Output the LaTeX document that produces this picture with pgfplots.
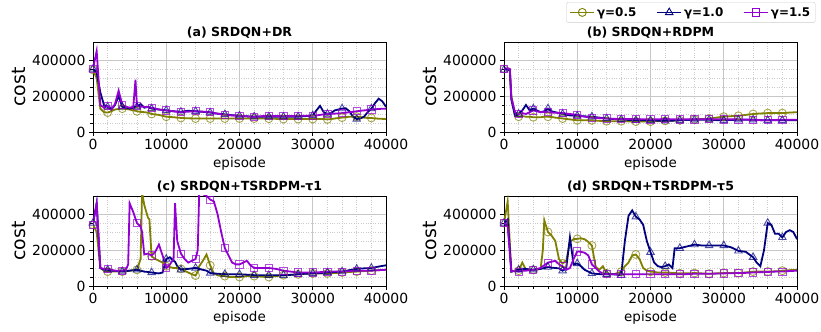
\documentclass[border=0pt]{standalone}
\usepackage{fontspec}
\setmainfont{DejaVu Sans}
\usepackage{pgfplots}
\pgfplotsset{compat=1.18}
\usepackage{pgfplotstable}

\definecolor{colA}{HTML}{808000}
\definecolor{colB}{HTML}{000080}
\definecolor{colC}{HTML}{9400D3}

\pgfplotstableread{
x a b c
0 345000 350000 350000
500 300000 330000 450000
1000 130000 220000 150000
1500 110000 150000 135000
2000 108000 140000 145000
2500 115000 125000 125000
3000 125000 150000 155000
3500 128000 200000 230000
4000 130000 140000 150000
4500 128000 135000 140000
5000 125000 130000 135000
5500 120000 135000 140000
5800 118000 140000 290000
6000 115000 140000 145000
6500 112000 155000 140000
7000 110000 135000 140000
7500 108000 140000 138000
8000 100000 130000 135000
9000 95000 125000 125000
10000 85000 120000 120000
11000 82000 115000 115000
12000 78000 112000 110000
13000 76000 118000 113000
14000 75000 115000 115000
15000 75000 112000 113000
16000 75000 108000 110000
17000 75000 102000 102000
18000 75000 98000 95000
19000 75000 93000 92000
20000 75000 90000 90000
21000 75000 87000 87000
22000 75000 85000 85000
23000 75000 85000 88000
24000 74000 85000 90000
25000 73000 85000 89000
26000 72000 85000 88000
27000 72000 85000 89000
28000 72000 85000 90000
29000 72000 88000 90000
30000 72000 92000 90000
30500 72000 120000 92000
31000 72000 145000 95000
31500 72000 110000 98000
32000 70000 100000 100000
32500 72000 105000 101000
33000 75000 120000 102000
34000 80000 130000 105000
34500 82000 132000 107000
35000 85000 115000 110000
35500 85000 85000 112000
36000 85000 72000 115000
36500 83000 75000 118000
37000 80000 85000 120000
37500 78000 110000 122000
38000 78000 130000 125000
38500 75000 160000 126000
39000 74000 185000 128000
39500 73000 170000 129000
40000 72000 140000 130000
}\tabA

\pgfplotstableread{
x a b c
0 350000 345000 350000
500 350000 350000 355000
800 340000 340000 350000
1000 200000 180000 190000
1500 95000 90000 110000
2000 85000 100000 100000
2500 88000 120000 105000
3000 85000 150000 100000
3500 85000 120000 110000
4000 82000 130000 120000
4500 82000 120000 115000
5000 82000 110000 110000
5500 85000 115000 112000
6000 85000 130000 110000
6500 83000 115000 108000
7000 80000 110000 107000
8000 75000 100000 105000
9000 70000 92000 100000
10000 65000 90000 95000
11000 65000 87000 85000
12000 65000 85000 80000
13000 62000 80000 77000
14000 60000 75000 75000
15000 60000 72000 73000
16000 60000 70000 72000
17000 59000 67000 72000
18000 58000 65000 72000
19000 58000 65000 71000
20000 58000 65000 70000
21000 60000 63000 71000
22000 62000 62000 72000
23000 63000 63000 71000
24000 65000 65000 70000
25000 68000 67000 70000
26000 70000 68000 70000
27000 72000 68000 71000
28000 75000 68000 72000
29000 80000 66000 71000
30000 85000 65000 70000
31000 88000 67000 70000
32000 90000 68000 70000
33000 95000 68000 69000
34000 100000 68000 68000
35000 103000 66000 66000
36000 105000 65000 65000
37000 105000 65000 67000
38000 105000 65000 68000
39000 108000 65000 68000
40000 110000 65000 68000
}\tabB

\pgfplotstableread{
x a b c
0 340000 350000 340000
500 300000 460000 460000
1000 100000 100000 100000
1500 85000 90000 95000
2000 80000 90000 95000
2500 80000 85000 90000
3000 80000 85000 85000
3500 80000 82000 85000
4000 80000 80000 85000
4500 82000 82000 90000
4800 84000 84000 120000
5000 85000 85000 460000
5500 88000 88000 410000
6000 90000 90000 350000
6500 150000 85000 330000
6700 520000 83000 300000
7000 450000 80000 175000
7500 380000 78000 180000
7700 370000 76000 175000
8000 165000 75000 170000
8500 150000 72000 190000
9000 140000 70000 230000
9500 130000 75000 170000
10000 110000 150000 100000
10500 105000 160000 120000
11000 100000 140000 150000
11200 100000 135000 460000
11500 100000 110000 250000
12000 95000 90000 180000
12500 85000 95000 150000
13000 75000 95000 130000
13500 65000 98000 140000
14000 58000 100000 150000
14300 80000 98000 200000
14500 110000 95000 520000
15000 140000 90000 510000
15500 175000 85000 500000
16000 115000 72000 480000
16500 70000 70000 470000
17000 60000 68000 400000
17500 55000 67000 300000
18000 55000 66000 210000
18500 50000 65000 170000
19000 50000 65000 130000
19500 50000 65000 120000
20000 50000 65000 120000
20500 52000 64000 130000
21000 55000 63000 140000
21500 55000 62000 115000
22000 55000 60000 100000
23000 52000 60000 100000
24000 50000 60000 100000
25000 55000 60000 95000
26000 60000 60000 85000
27000 62000 62000 80000
28000 65000 65000 75000
29000 68000 68000 75000
30000 70000 70000 75000
31000 70000 72000 77000
32000 70000 75000 80000
33000 72000 78000 80000
34000 75000 80000 80000
35000 78000 88000 82000
36000 80000 95000 85000
37000 83000 98000 85000
38000 85000 100000 85000
39000 88000 108000 88000
40000 90000 115000 90000
}\tabC

\pgfplotstableread{
x a b c
0 350000 350000 350000
500 470000 370000 330000
1000 80000 80000 80000
1500 85000 85000 85000
2000 85000 90000 80000
2500 130000 95000 85000
3000 90000 95000 85000
3500 90000 92000 88000
4000 90000 90000 90000
4500 92000 92000 95000
5000 95000 95000 100000
5300 200000 98000 110000
5500 365000 100000 115000
6000 300000 105000 130000
6500 280000 102000 135000
7000 250000 100000 140000
7500 150000 98000 120000
8000 125000 85000 110000
8500 140000 100000 90000
9000 245000 270000 100000
9500 260000 120000 150000
10000 262000 125000 192000
10500 265000 110000 190000
11000 260000 90000 185000
11500 245000 80000 170000
12000 225000 70000 120000
12500 108000 68000 100000
13000 90000 66000 80000
13500 110000 65000 70000
14000 70000 65000 65000
15000 65000 65000 65000
16000 80000 60000 65000
16500 110000 250000 65000
17000 130000 390000 65000
17500 170000 420000 65000
18000 175000 385000 65000
18500 150000 370000 65000
19000 100000 340000 65000
19500 85000 250000 65000
20000 80000 188000 65000
20500 78000 130000 65000
21000 75000 110000 65000
21500 75000 105000 65000
22000 75000 110000 65000
22500 75000 120000 65000
23000 72000 100000 65000
23300 72000 210000 65000
24000 70000 210000 65000
25000 70000 220000 66000
26000 72000 230000 68000
27000 70000 225000 68000
28000 68000 225000 68000
29000 70000 225000 69000
30000 72000 225000 70000
31000 72000 215000 71000
32000 72000 195000 72000
33000 75000 190000 73000
34000 80000 160000 75000
34500 80000 130000 76000
35000 80000 110000 77000
35500 80000 200000 77000
36000 80000 350000 78000
36500 80000 340000 79000
37000 82000 290000 80000
37500 82000 290000 80000
38000 85000 270000 80000
38500 86000 300000 82000
39000 88000 310000 83000
39500 89000 300000 84000
40000 90000 260000 85000
}\tabD

\newcommand{\serie}[4]{%
  \addplot[color=#3, line width=1.8bp, forget plot] table[x=x, y=#2]{#1};
  \addplot[color=#3, only marks, #4, mark options={solid, line width=0.9bp, draw opacity=0.7}, forget plot,
    x filter/.expression={(x<39000 && mod(x,2000)<1) ? x : nan}] table[x=x, y=#2]{#1};
}
\newcommand{\allseries}[1]{%
  \serie{#1}{a}{colA}{mark=o, mark size=4bp}
  \serie{#1}{b}{colB}{mark=triangle, mark size=4.3bp}
  \serie{#1}{c}{colC}{mark=square, mark size=3.6bp}
}

\pgfplotsset{
  every axis title/.style={at={(0.5,1)}, anchor=south, yshift=0bp,
    font=\bfseries\fontsize{12.6}{12.6}\selectfont},
  panel/.style={
    scale only axis, width=293bp, height=90bp, anchor=south west,
    xmin=0, xmax=40000, ymin=0, ymax=500000,
    xtick={0,10000,20000,30000,40000}, ytick={0,200000,400000},
    minor x tick num=4, minor y tick num=3,
    grid=both,
    major grid style={color=black!22, line width=0.8bp},
    minor grid style={color=black!20, dotted, line width=0.6bp},
    axis line style={line width=0.8bp},
    tick align=outside, tick pos=left,
    major tick length=4bp, minor tick length=2.5bp,
    every tick/.style={black, line width=0.8bp},
    scaled ticks=false,
    xticklabel={\pgfmathprintnumber[fixed, 1000 sep={}, assume math mode=true]{\tick}},
    yticklabel={\pgfmathprintnumber[fixed, 1000 sep={}, assume math mode=true]{\tick}},
    ticklabel style={font=\fontsize{14}{14}\selectfont},
    xlabel={episode}, ylabel={cost},
    xlabel style={font=\fontsize{13.5}{13.5}\selectfont},
    ylabel style={font=\fontsize{19}{19}\selectfont},
  },
}

\begin{document}
\begin{tikzpicture}
\path[use as bounding box] (0,0) rectangle (821bp,332bp);

\begin{axis}[panel, at={(93bp,200bp)}, title={(a) SRDQN+DR}]
\allseries{\tabA}
\end{axis}

\begin{axis}[panel, at={(504bp,200bp)}, title={(b) SRDQN+RDPM},
  legend style={at={(1.063,1.444)}, anchor=north east, legend columns=3,
    draw=black!20, rounded corners=2bp, font=\bfseries\fontsize{12}{12}\selectfont,
    inner sep=3bp, /tikz/every even column/.append style={column sep=18bp}},
  legend cell align=left,
  legend image code/.code={\draw[mark repeat=2, mark phase=2, #1] plot coordinates {(0bp,0bp) (12bp,0bp) (24bp,0bp)};}]
\allseries{\tabB}
\addlegendimage{colA, line width=1.6bp, mark=o, mark size=4bp, mark options={solid, line width=0.9bp}}
\addlegendentry{γ=0.5}
\addlegendimage{colB, line width=1.6bp, mark=triangle, mark size=4.3bp, mark options={solid, line width=0.9bp}}
\addlegendentry{γ=1.0}
\addlegendimage{colC, line width=1.6bp, mark=square, mark size=3.6bp, mark options={solid, line width=0.9bp}}
\addlegendentry{γ=1.5}
\end{axis}

\begin{axis}[panel, at={(93bp,46bp)}, title={(c) SRDQN+TSRDPM-τ1}]
\allseries{\tabC}
\end{axis}

\begin{axis}[panel, at={(504bp,46bp)}, title={(d) SRDQN+TSRDPM-τ5}]
\allseries{\tabD}
\end{axis}
\end{tikzpicture}
\end{document}
